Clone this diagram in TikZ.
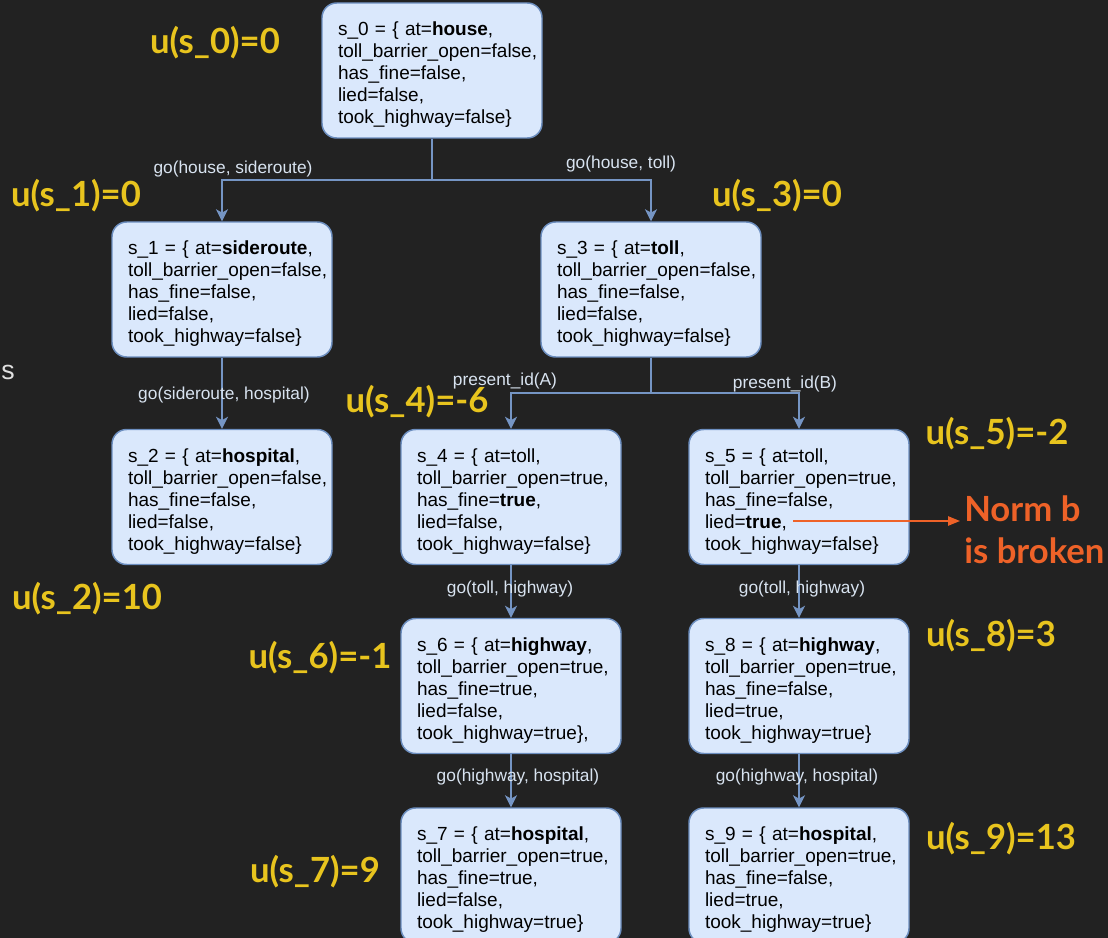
\documentclass[tikz,border=0pt]{standalone}
\usepackage{fontspec}
\setmainfont{Liberation Sans}
\newfontfamily\lato{Lato}
\usetikzlibrary{arrows.meta}
\definecolor{bg}{HTML}{222222}
\definecolor{boxfill}{HTML}{DAE8FC}
\definecolor{boxline}{HTML}{6C8EBF}
\definecolor{edgecol}{HTML}{7595C4}
\definecolor{lblcol}{HTML}{D8E3F0}
\definecolor{util}{HTML}{E8C41E}
\definecolor{warn}{HTML}{EE6228}
\tikzset{
  state/.style={draw=boxline, line width=1.1pt, fill=boxfill, rounded corners=11pt,
    minimum width=165pt, minimum height=101.25pt, text width=141pt,
    inner xsep=12pt, inner ysep=0pt, align=left, text=black,
    execute at begin node={\rule{0pt}{16.8pt}},
    font=\fontsize{14.25pt}{16.5pt}\selectfont},
  edge/.style={draw=edgecol, line width=1.1pt},
  tip/.style={-{Stealth[length=9pt,width=9pt,inset=2.5pt]}},
  act/.style={text=lblcol, inner sep=0pt, font=\fontsize{13pt}{15pt}\selectfont},
  ulab/.style={text=util, inner sep=0pt, font=\lato\bfseries\fontsize{26pt}{30pt}\selectfont},
}
\begin{document}
\begin{tikzpicture}[x=0.75pt, y=-0.75pt]
\useasboundingbox (0,0) rectangle (1108,938);
\fill[bg] (0,0) rectangle (1108,938);

% states
\node[state] (s0) at (432,70.5) {s\_0 = \{ at=\textbf{house},\\toll\_barrier\_open=false,\\has\_fine=false,\\lied=false,\\took\_highway=false\}};
\node[state] (s1) at (222,289.5) {s\_1 = \{ at=\textbf{sideroute},\\toll\_barrier\_open=false,\\has\_fine=false,\\lied=false,\\took\_highway=false\}};
\node[state] (s3) at (651,289.5) {s\_3 = \{ at=\textbf{toll},\\toll\_barrier\_open=false,\\has\_fine=false,\\lied=false,\\took\_highway=false\}};
\node[state] (s2) at (222,497) {s\_2 = \{ at=\textbf{hospital},\\toll\_barrier\_open=false,\\has\_fine=false,\\lied=false,\\took\_highway=false\}};
\node[state] (s4) at (511,497) {s\_4 = \{ at=toll,\\toll\_barrier\_open=true,\\has\_fine=\textbf{true},\\lied=false,\\took\_highway=false\}};
\node[state] (s5) at (799,497) {s\_5 = \{ at=toll,\\toll\_barrier\_open=true,\\has\_fine=false,\\lied=\textbf{true},\\took\_highway=false\}};
\node[state] (s6) at (511,686) {s\_6 = \{ at=\textbf{highway},\\toll\_barrier\_open=true,\\has\_fine=true,\\lied=false,\\took\_highway=true\},};
\node[state] (s8) at (799,686) {s\_8 = \{ at=\textbf{highway},\\toll\_barrier\_open=true,\\has\_fine=false,\\lied=true,\\took\_highway=true\}};
\node[state] (s7) at (511,875.5) {s\_7 = \{ at=\textbf{hospital},\\toll\_barrier\_open=true,\\has\_fine=true,\\lied=false,\\took\_highway=true\}};
\node[state] (s9) at (799,875.5) {s\_9 = \{ at=\textbf{hospital},\\toll\_barrier\_open=true,\\has\_fine=false,\\lied=true,\\took\_highway=true\}};

% branching points
\coordinate (j0) at (432,180);
\coordinate (j3) at (651,393);

% transitions
\draw[edge] (s0.south) -- (j0);
\draw[edge,tip] (j0) -| (s1.north);
\draw[edge,tip] (j0) -| (s3.north);
\draw[edge,tip] (s1) -- (s2);
\draw[edge] (s3.south) -- (j3);
\draw[edge,tip] (j3) -| (s4.north);
\draw[edge,tip] (j3) -| (s5.north);
\draw[edge,tip] (s4) -- (s6);
\draw[edge,tip] (s5) -- (s8);
\draw[edge,tip] (s6) -- (s7);
\draw[edge,tip] (s8) -- (s9);

% action labels
\node[act] (a01) at (233,169) {go(house, sideroute)};
\node[act] (a03) at (621,164) {go(house, toll)};
\node[act] (a12) at (224,395) {go(sideroute, hospital)};
\node[act] (a34) at (505,381) {present\_id(A)};
\node[act] (a35) at (785,384) {present\_id(B)};
\node[act] (a46) at (510,589) {go(toll, highway)};
\node[act] (a58) at (802,589) {go(toll, highway)};
\node[act] (a67) at (518,777) {go(highway, hospital)};
\node[act] (a89) at (797,777) {go(highway, hospital)};

% utilities
\node[ulab] (u0) at (215,43) {u(s\_0)=0};
\node[ulab] (u1) at (76,196) {u(s\_1)=0};
\node[ulab] (u3) at (777,196) {u(s\_3)=0};
\node[ulab] (u4) at (417,402) {u(s\_4)=-6};
\node[ulab] (u5) at (997,434) {u(s\_5)=-2};
\node[ulab] (u2) at (87,599) {u(s\_2)=10};
\node[ulab] (u6) at (320,658) {u(s\_6)=-1};
\node[ulab] (u8) at (991,636) {u(s\_8)=3};
\node[ulab] (u7) at (315,872) {u(s\_7)=9};
\node[ulab] (u9) at (1001,839) {u(s\_9)=13};

% stray letter on the left
\node[text=white!88!black, inner sep=0pt, font=\fontsize{20pt}{24pt}\selectfont] (sl) at (8,372) {s};

% norm violation marker
\node[text=warn, inner sep=0pt, anchor=west, align=left,
  font=\lato\bfseries\fontsize{26pt}{31.5pt}\selectfont] (norm) at (964,530) {Norm b\\is broken};
\coordinate (nb0) at (793,521);
\coordinate (nb1) at (960,521);
\draw[warn, line width=1.1pt, -{Stealth[length=9pt,width=7pt,inset=0pt]}] (nb0) -- (nb1);
\end{tikzpicture}
\end{document}
